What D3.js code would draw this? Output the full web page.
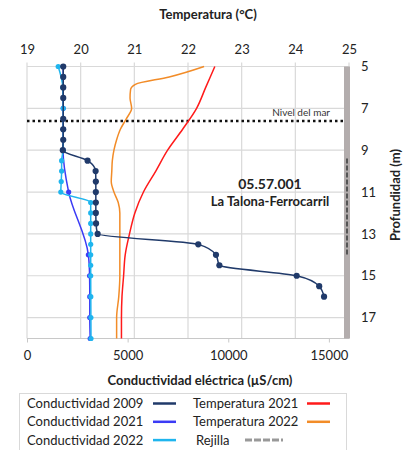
<!DOCTYPE html>
<html>
<head>
<meta charset="utf-8">
<script src="https://cdn.jsdelivr.net/npm/d3@7"></script>
<style>
  body { margin: 0; background: #fff; }
  svg text { font-family: Lato, "Open Sans", sans-serif; fill: #222; }
</style>
</head>
<body>
<div id="chart-area"></div>
<script>
// depth (m) and electrical conductivity (uS/cm)
var depth2009 = [5, 5.5, 6, 6.5, 7.5, 8, 8.5, 9, 9.5, 10, 10.5, 11, 11.5, 12, 12.5, 13, 13.5, 14, 14.5, 15, 15.5, 16];
var cond2009 = [1800, 1800, 1800, 1800, 1800, 1800, 1800, 1780, 3010, 3410, 3420, 3420, 3420, 3420, 3430, 3510, 8510, 9390, 9560, 13400, 14520, 14760];

var depth2021 = [5, 6, 7, 8, 9, 11, 14, 15, 16, 17, 18];
var cond2021 = [1800, 1800, 1800, 1800, 1790, 2070, 3050, 3110, 3120, 3120, 3140];

var depth2022 = [5, 6, 7, 8, 9, 9.5, 10, 10.5, 11, 11.5, 12, 12.5, 13, 13.5, 14, 14.5, 15, 16, 17, 18];
var cond2022 = [1550, 1780, 1800, 1800, 1790, 1720, 1720, 1700, 1680, 3165, 3165, 3165, 3165, 3165, 3165, 3165, 3165, 3170, 3175, 3180];

// temperature (C)
var depthT2021 = [5, 6, 7, 8, 9, 10, 11, 12, 13, 14, 15, 16, 17, 18];
var temp2021 = [22.50, 22.33, 22.16, 21.90, 21.62, 21.40, 21.17, 21.01, 20.91, 20.83, 20.80, 20.77, 20.76, 20.76];

var depthT2022 = [5, 5.5, 5.85, 6.1, 6.5, 7, 7.5, 8, 8.5, 9, 9.5, 10, 10.5, 11, 11.5, 12, 13, 14, 15, 16, 17, 18];
var temp2022 = [22.30, 21.65, 21.02, 20.93, 20.92, 20.95, 20.85, 20.74, 20.67, 20.62, 20.59, 20.58, 20.57, 20.62, 20.70, 20.73, 20.73, 20.73, 20.73, 20.71, 20.67, 20.67];

var tempTicks = [19, 20, 21, 22, 23, 24, 25];
var condTicks = [0, 5000, 10000, 15000];
var depthTicks = [5, 7, 9, 11, 13, 15, 17];

var seaLevel = 7.6;
var screenTop = 9.4, screenBottom = 14;

var width = 411, height = 450;

var svg = d3.select("#chart-area").append("svg")
    .attr("width", width)
    .attr("height", height);

var x = d3.scaleLinear().domain([0, 16000]).range([27, 349]);
var t = d3.scaleLinear().domain([19, 25]).range([27, 349]);
var y = d3.scaleLinear().domain([5, 18]).range([66.5, 338.5]);

// grid
svg.append("g").selectAll("line.vg")
    .data(tempTicks)
  .enter().append("line")
    .attr("x1", d => t(d)).attr("x2", d => t(d))
    .attr("y1", y(5) - 4).attr("y2", y(18))
    .attr("stroke", "#d9d9d9").attr("stroke-width", 1.2);

svg.append("g").selectAll("line.hg")
    .data(depthTicks)
  .enter().append("line")
    .attr("x1", x(0)).attr("x2", t(25))
    .attr("y1", d => y(d)).attr("y2", d => y(d))
    .attr("stroke", "#d9d9d9").attr("stroke-width", 1.2);

svg.append("line")
    .attr("x1", x(0)).attr("x2", t(25))
    .attr("y1", y(18)).attr("y2", y(18))
    .attr("stroke", "#c8c8c8").attr("stroke-width", 1.2);

// top axis (temperature)
var topAxis = svg.append("g")
    .attr("transform", "translate(0," + y(5) + ")")
    .call(d3.axisTop(t).tickValues(tempTicks).tickSize(0).tickPadding(13).tickFormat(d3.format("d")));
topAxis.select(".domain").remove();
topAxis.selectAll("text").style("font-size", "13px");

// bottom axis (conductivity)
var bottomAxis = svg.append("g")
    .attr("transform", "translate(0," + y(18) + ")")
    .call(d3.axisBottom(x).tickValues(condTicks).tickSize(4).tickPadding(8).tickFormat(d3.format("d")));
bottomAxis.select(".domain").remove();
bottomAxis.selectAll("line").attr("stroke", "#c8c8c8");
bottomAxis.selectAll("text").style("font-size", "13px");

// right axis (depth)
var rightAxis = svg.append("g")
    .attr("transform", "translate(" + t(25) + ",0)")
    .call(d3.axisRight(y).tickValues(depthTicks).tickSize(0).tickPadding(12));
rightAxis.select(".domain").remove();
rightAxis.selectAll("text").style("font-size", "13px");

// axis titles
svg.append("text")
    .attr("x", 208).attr("y", 19)
    .attr("text-anchor", "middle")
    .style("font-size", "13px").style("font-weight", "bold")
    .text("Temperatura (°C)");

svg.append("text")
    .attr("x", 200).attr("y", 385)
    .attr("text-anchor", "middle")
    .style("font-size", "13px").style("font-weight", "bold")
    .text("Conductividad eléctrica (µS/cm)");

svg.append("text")
    .attr("transform", "translate(400,195) rotate(-90)")
    .attr("text-anchor", "middle")
    .style("font-size", "13px").style("font-weight", "bold")
    .text("Profundidad (m)");

// well screen bar
svg.append("rect")
    .attr("x", 344).attr("y", y(5))
    .attr("width", 6).attr("height", y(18) - y(5))
    .attr("fill", "#b3adad");

svg.append("line")
    .attr("x1", 347).attr("x2", 347)
    .attr("y1", y(screenTop)).attr("y2", y(screenBottom))
    .attr("stroke", "#555").attr("stroke-width", 2)
    .attr("stroke-dasharray", "5,2");

// sea level
svg.append("line")
    .attr("x1", x(0)).attr("x2", 344)
    .attr("y1", y(seaLevel)).attr("y2", y(seaLevel))
    .attr("stroke", "#111").attr("stroke-width", 2.5)
    .attr("stroke-dasharray", "2.5,3");

svg.append("text")
    .attr("x", 330).attr("y", y(seaLevel) - 5)
    .attr("text-anchor", "end")
    .style("font-size", "10px").style("fill", "#333")
    .text("Nivel del mar");

// series
var line = d3.line()
    .x(d => d[0])
    .y(d => d[1])
    .curve(d3.curveMonotoneY);

function zip(depths, vals, sc) {
  return depths.map((d, i) => [sc(vals[i]), y(d)]);
}

var conds = [
  { depths: depth2021, vals: cond2021, color: "#3b3bf5", r: 2.6 },
  { depths: depth2022, vals: cond2022, color: "#1fb5ee", r: 2.6 },
  { depths: depth2009, vals: cond2009, color: "#203a6a", r: 3.1 }
];

svg.append("path")
    .attr("d", line(zip(depthT2021, temp2021, t)))
    .attr("fill", "none").attr("stroke", "#ff1a1a").attr("stroke-width", 1.5);

svg.append("path")
    .attr("d", line(zip(depthT2022, temp2022, t)))
    .attr("fill", "none").attr("stroke", "#f28c28").attr("stroke-width", 1.5);

conds.forEach(function(s) {
  var pts = zip(s.depths, s.vals, x);
  svg.append("path")
      .attr("d", line(pts))
      .attr("fill", "none").attr("stroke", s.color).attr("stroke-width", 1.5);
  svg.append("g").selectAll("circle")
      .data(pts)
    .enter().append("circle")
      .attr("cx", d => d[0]).attr("cy", d => d[1])
      .attr("r", s.r)
      .attr("fill", s.color);
});

// label
svg.append("text")
    .attr("x", 270).attr("y", 189)
    .attr("text-anchor", "middle")
    .style("font-size", "14px").style("font-weight", "bold")
    .text("05.57.001");
svg.append("text")
    .attr("x", 270).attr("y", 206)
    .attr("text-anchor", "middle")
    .style("font-size", "13px").style("font-weight", "bold")
    .text("La Talona-Ferrocarril");

// legend
var legend = svg.append("g");
legend.append("rect")
    .attr("x", 19.5).attr("y", 393.5)
    .attr("width", 327).attr("height", 70)
    .attr("fill", "#fff").attr("stroke", "#d9d9d9");

var legendItems = [
  { label: "Conductividad 2009", color: "#203a6a", tx: 27, lx: 153, row: 0 },
  { label: "Conductividad 2021", color: "#3b3bf5", tx: 27, lx: 153, row: 1 },
  { label: "Conductividad 2022", color: "#1fb5ee", tx: 27, lx: 153, row: 2 },
  { label: "Temperatura 2021", color: "#ff1a1a", tx: 193, lx: 307, row: 0 },
  { label: "Temperatura 2022", color: "#f28c28", tx: 193, lx: 307, row: 1 }
];

legendItems.forEach(function(d) {
  var yy = 403.5 + d.row * 18.3;
  legend.append("text")
      .attr("x", d.tx).attr("y", yy + 4.5)
      .style("font-size", "13px")
      .text(d.label);
  legend.append("line")
      .attr("x1", d.lx).attr("x2", d.lx + 23)
      .attr("y1", yy).attr("y2", yy)
      .attr("stroke", d.color).attr("stroke-width", 2.5);
});

legend.append("text")
    .attr("x", 196).attr("y", 403.5 + 2 * 18.3 + 4.5)
    .style("font-size", "13px")
    .text("Rejilla");
legend.append("line")
    .attr("x1", 245).attr("x2", 283)
    .attr("y1", 403.5 + 2 * 18.3).attr("y2", 403.5 + 2 * 18.3)
    .attr("stroke", "#999").attr("stroke-width", 3)
    .attr("stroke-dasharray", "7,2");
</script>
</body>
</html>
